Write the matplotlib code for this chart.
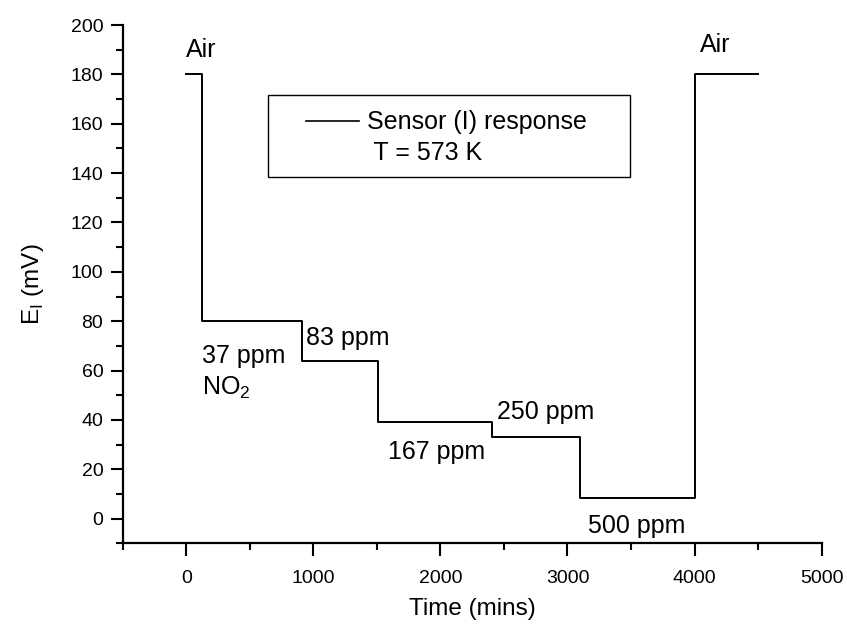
import matplotlib
matplotlib.use("Agg")
import matplotlib.pyplot as plt
from matplotlib.lines import Line2D
from matplotlib.patches import Rectangle
from matplotlib.ticker import MultipleLocator

plt.rcParams['font.family'] = ['Liberation Sans', 'DejaVu Sans']
plt.rcParams['mathtext.fontset'] = 'custom'
plt.rcParams['mathtext.rm'] = 'Liberation Sans'

# Step change times (mins) and sensor EMF held from each time (mV)
times = [0, 125, 910, 1505, 2405, 3100, 4005, 4500]
emf = [180, 80, 64, 39, 33, 8.5, 180, 180]

# Annotations: (text, x, y)
labels = [
    ("Air", 0, 190),
    ("37 ppm", 120, 66),
    (r"NO$_\mathregular{2}$", 120, 53),
    ("83 ppm", 940, 73),
    ("167 ppm", 1585, 27),
    ("250 ppm", 2445, 43),
    ("500 ppm", 3165, -3),
    ("Air", 4040, 192),
]

fig = plt.figure(figsize=(8.47, 6.28), dpi=100)
ax = fig.add_axes([0.145, 0.135, 0.825, 0.825])

ax.plot(times, emf, drawstyle='steps-post', color='black', lw=1.4)

ax.set_xlim(-500, 5000)
ax.set_ylim(-10, 200)
ax.xaxis.set_major_locator(MultipleLocator(1000))
ax.xaxis.set_minor_locator(MultipleLocator(500))
ax.yaxis.set_major_locator(MultipleLocator(20))
ax.yaxis.set_minor_locator(MultipleLocator(10))

for s in ['top', 'right']:
    ax.spines[s].set_visible(False)
for s in ['left', 'bottom']:
    ax.spines[s].set_linewidth(1.6)

ax.tick_params(which='major', direction='out', length=9, width=1.5, labelsize=14, pad=5)
ax.tick_params(axis='x', which='major', pad=10)
ax.tick_params(which='minor', direction='out', length=5, width=1.5)

ax.set_xlabel("Time (mins)", fontsize=17.5, labelpad=8)
ax.set_ylabel(r"E$_\mathregular{I}$ (mV)", fontsize=17.5, labelpad=18)

for txt, x, y in labels:
    ax.text(x, y, txt, fontsize=18, ha='left', va='center')

# Legend box
ax.add_patch(Rectangle((0.2074, 0.707), 0.518, 0.158, transform=ax.transAxes,
                       fill=False, edgecolor='black', lw=1.0, zorder=3))
handles = [Line2D([], [], color='black', lw=1.2),
           Line2D([], [], color='none')]
ax.legend(handles, ["Sensor (I) response", " T = 573 K"], loc='upper left',
          bbox_to_anchor=(0.255, 0.845), frameon=False, fontsize=18,
          handlelength=2.1, handletextpad=0.35, labelspacing=0.25,
          borderpad=0.2, borderaxespad=0)

fig.savefig("out.png", dpi=100)
